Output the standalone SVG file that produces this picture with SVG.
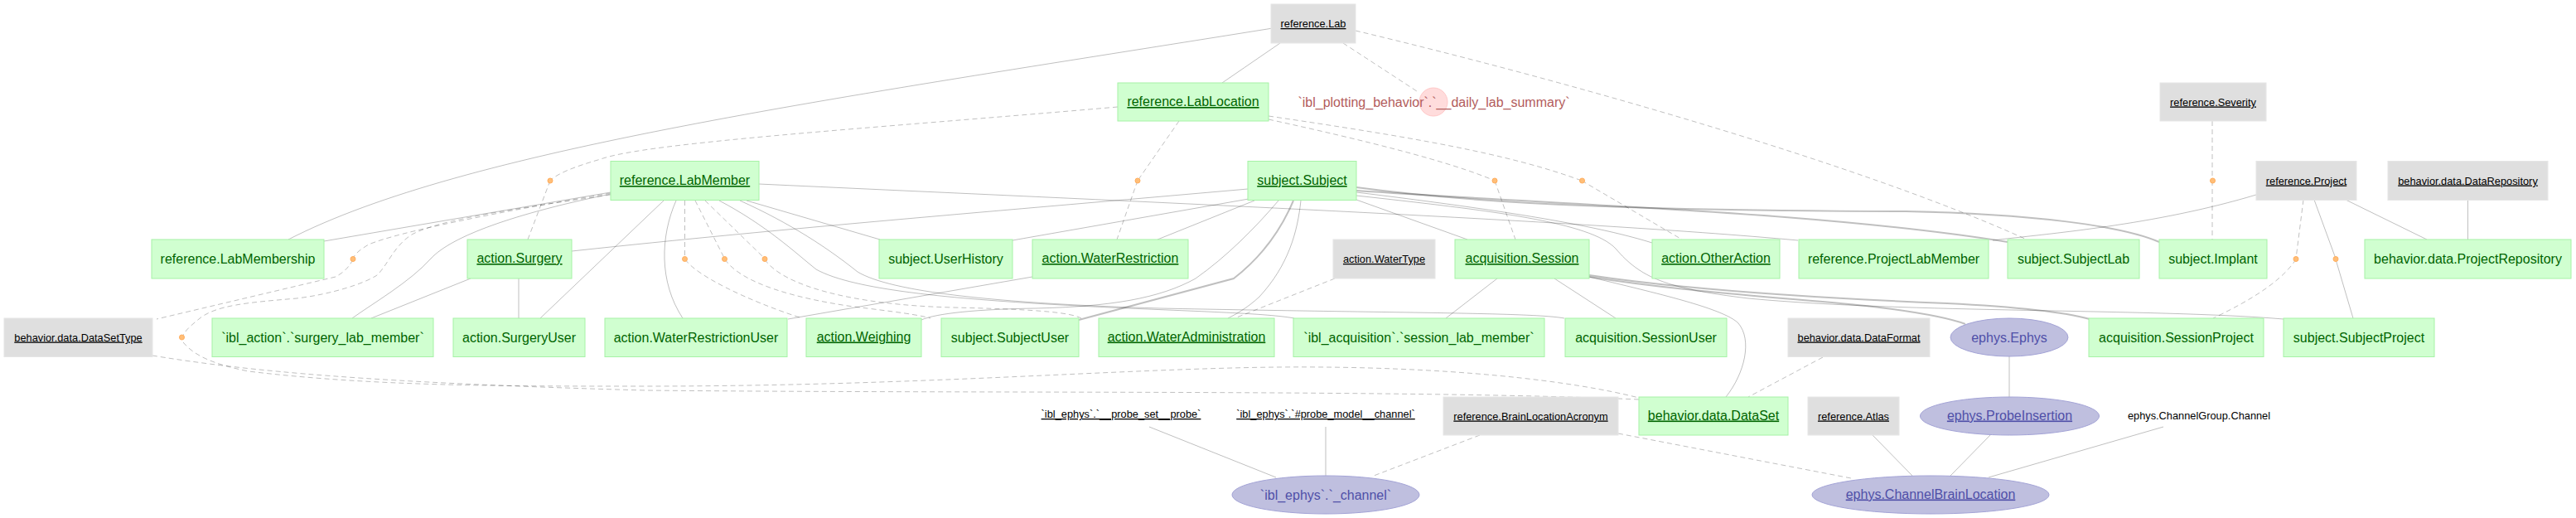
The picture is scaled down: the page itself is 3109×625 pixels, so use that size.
<svg xmlns="http://www.w3.org/2000/svg" width="3109" height="625" viewBox="0 0 3109 625">
<style>
text{font-family:"Liberation Sans",Arial,sans-serif;text-anchor:middle}
.m rect{fill:#D0FFD0;stroke:#A6F2A6;stroke-width:1}
.m text{fill:#006400;font-size:16px}
.l rect{fill:#DFDFDF;stroke:#E6E6E6;stroke-width:1}
.l text{fill:#000;font-size:12.8px}
.i ellipse{fill:#BFBFDF;stroke:#A3A3D6;stroke-width:1}
.i text{fill:#4F4FA8;font-size:16px}
.p text{fill:#000;font-size:12.8px}
.c circle{fill:#FFDCDC;stroke:#FFC8C8;stroke-width:1}
.c text{fill:#B35C5C;font-size:16px}
.a circle{fill:#FFBE78;stroke:#FFAD5C;stroke-width:1}
.u{text-decoration:underline}
#edges path{fill:none;stroke:#000;stroke-opacity:.25;stroke-width:1}
#edges .d{stroke-dasharray:6 4}
#edges .t{stroke-width:2}
</style>
<rect width="3109" height="625" fill="#fff"/>
<g id="edges">
<path d="M1536,34 C1000,120 560,180 348,289"/>
<path d="M1545,52 L1475,100"/>
<path d="M737,232 L391,291"/>
<path d="M737,234 C620,258 545,285 520,312 C495,340 450,366 425,384"/>
<path d="M568,336 L448,384"/>
<path d="M626,336 L626,384"/>
<path d="M801,242 L652,384"/>
<path d="M816,242 C797,285 795,340 824,384"/>
<path d="M901,242 L1062,289"/>
<path d="M916,222 C1300,240 1900,265 2170,290"/>
<path d="M868,242 C925,272 960,305 985,325 C1030,350 1150,362 1340,371 C1450,376 1530,378 1562,384"/>
<path d="M893,242 C955,270 1000,300 1035,328 C1075,352 1200,366 1400,372 C1700,378 1850,377 1888,384"/>
<path d="M1506,228 C1200,255 950,275 690,303"/>
<path d="M1507,240 L1222,290"/>
<path d="M1514,242 L1397,289"/>
<path d="M1543,242 C1515,275 1480,310 1443,336 C1400,360 1340,370 1250,372 C1180,373 1130,378 1112,386"/>
<path d="M1570,242 C1566,280 1555,320 1520,358 C1505,372 1490,380 1482,384"/>
<path d="M1637,241 L1771,289"/>
<path d="M1637,232 C1800,252 1920,270 1994,293"/>
<path d="M1637,236 C1800,254 1920,268 1950,300 C1980,335 2010,348 2110,360 C2300,378 2600,372 2756,385"/>
<path d="M1807,336 L1745,384"/>
<path d="M1876,336 L1950,384"/>
<path d="M1918,334 C2000,354 2080,372 2098,390 C2115,410 2106,450 2083,479"/>
<path d="M1246,334 L951,385"/>
<path d="M2723,235 C2600,272 2470,282 2405,290"/>
<path d="M2793,241 L2819,312"/>
<path d="M2819,313 L2840,384"/>
<path d="M2831,241 L2929,289"/>
<path d="M2978.5,241 L2978.5,289"/>
<path d="M2425,430 L2425,479"/>
<path d="M2402,525 L2354,574"/>
<path d="M2611,515 L2400,576"/>
<path d="M2260,525 L2308,574"/>
<path d="M1600,515 L1600,574"/>
<path d="M1387,515 L1540,576"/>
<path class="t" d="M1637,226 C1800,248 2000,254 2300,255 C2450,258 2560,272 2606,292"/>
<path class="t" d="M1637,230 C1900,248 2200,256 2423,292"/>
<path class="t" d="M1561,242 C1545,280 1520,312 1489,336 L1302,386"/>
<path class="t" d="M1918,332 C2050,352 2250,362 2350,366 C2430,370 2490,376 2522,385"/>
<path class="t" d="M1918,334 C2050,355 2200,362 2260,370 C2310,376 2350,383 2372,391"/>
<path class="d" d="M1621,52 L1713,112"/>
<path class="d" d="M1636,37 C1900,100 2250,200 2446,289"/>
<path class="d" d="M1349,129 C1050,155 780,172 725,192 C690,202 672,210 664,218"/>
<path class="d" d="M664,218 L637,289"/>
<path class="d" d="M1423,146 L1373,218"/>
<path class="d" d="M1373,218 L1348,289"/>
<path class="d" d="M1531,144 C1650,170 1750,195 1804,218"/>
<path class="d" d="M1804,218 L1829,289"/>
<path class="d" d="M1531,140 C1700,165 1820,185 1909,218"/>
<path class="d" d="M1909,218 L2030,289"/>
<path class="d" d="M2670,146 L2670,218"/>
<path class="d" d="M2670,218 L2670,289"/>
<path class="d" d="M2780,241 L2771,312"/>
<path class="d" d="M2771,313 C2750,345 2700,370 2671,384"/>
<path class="d" d="M826.5,242 L826.5,312"/>
<path class="d" d="M827,313 C840,332 900,362 968,384"/>
<path class="d" d="M839,242 L874.5,312"/>
<path class="d" d="M875,313 C895,342 960,360 1030,370 C1080,376 1110,380 1123,384"/>
<path class="d" d="M851,242 L923,312"/>
<path class="d" d="M923,313 C945,345 1030,368 1150,371 C1240,373 1290,376 1305,384"/>
<path class="d" d="M737,233 C600,256 480,280 445,295 C433,302 428,307 426,312"/>
<path class="d" d="M426,313 C420,325 412,330 405,334 L189,385"/>
<path class="d" d="M737,235 C620,252 530,265 497,283 C475,297 468,320 455,332 C440,342 400,355 358,360 C300,365 260,368 240,385 C230,393 222,400 220,407"/>
<path class="d" d="M221,413 C235,430 260,440 300,448 C450,466 600,466 780,466 C1100,466 1350,445 1540,443 C1750,441 1900,460 1978,480"/>
<path class="d" d="M184,429 C300,448 450,462 780,471 C1200,475 1700,470 1978,482"/>
<path class="d" d="M1611,336 L1490,384"/>
<path class="d" d="M2200,431 L2110,479"/>
<path class="d" d="M1953,523 L2234,577"/>
<path class="d" d="M1786,525 L1658,574"/>
</g>
<g id="reference.Lab" class="l"><rect x="1534" y="5" width="102" height="47"/><text x="1585" y="33" class="u">reference.Lab</text></g>
<g id="reference.LabLocation" class="m"><rect x="1349" y="100" width="182" height="46"/><text x="1440" y="128" class="u">reference.LabLocation</text></g>
<g id="reference.Severity" class="l"><rect x="2607" y="100" width="128" height="46"/><text x="2671" y="127.5" class="u">reference.Severity</text></g>
<g id="daily_lab_summary" class="c"><circle cx="1730" cy="123" r="17"/><text x="1730.5" y="128.5">`ibl_plotting_behavior`.`__daily_lab_summary`</text></g>
<g id="reference.LabMember" class="m"><rect x="737" y="194.5" width="179" height="47"/><text x="826.5" y="223" class="u">reference.LabMember</text></g>
<g id="subject.Subject" class="m"><rect x="1506" y="194.5" width="131" height="47"/><text x="1571.5" y="223" class="u">subject.Subject</text></g>
<g id="reference.Project" class="l"><rect x="2723" y="194.5" width="121" height="47"/><text x="2783.5" y="222.5" class="u">reference.Project</text></g>
<g id="behavior.data.DataRepository" class="l"><rect x="2882" y="194.5" width="193" height="47"/><text x="2978.5" y="222.5" class="u">behavior.data.DataRepository</text></g>
<g id="reference.LabMembership" class="m"><rect x="183" y="289" width="208" height="47"/><text x="287" y="318">reference.LabMembership</text></g>
<g id="action.Surgery" class="m"><rect x="564" y="289" width="126" height="47"/><text x="627" y="317" class="u">action.Surgery</text></g>
<g id="subject.UserHistory" class="m"><rect x="1061" y="289" width="161" height="47"/><text x="1141.5" y="318">subject.UserHistory</text></g>
<g id="action.WaterRestriction" class="m"><rect x="1246" y="289" width="188" height="47"/><text x="1340" y="317" class="u">action.WaterRestriction</text></g>
<g id="action.WaterType" class="l"><rect x="1609" y="289" width="123" height="47"/><text x="1670.5" y="317" class="u">action.WaterType</text></g>
<g id="acquisition.Session" class="m"><rect x="1756" y="289" width="162" height="47"/><text x="1837" y="317" class="u">acquisition.Session</text></g>
<g id="action.OtherAction" class="m"><rect x="1994" y="289" width="154" height="47"/><text x="2071" y="317" class="u">action.OtherAction</text></g>
<g id="reference.ProjectLabMember" class="m"><rect x="2171" y="289" width="229" height="47"/><text x="2285.5" y="318">reference.ProjectLabMember</text></g>
<g id="subject.SubjectLab" class="m"><rect x="2423" y="289" width="159" height="47"/><text x="2502.5" y="318">subject.SubjectLab</text></g>
<g id="subject.Implant" class="m"><rect x="2606" y="289" width="130" height="47"/><text x="2671" y="318">subject.Implant</text></g>
<g id="behavior.data.ProjectRepository" class="m"><rect x="2854" y="289" width="249" height="47"/><text x="2978.5" y="318">behavior.data.ProjectRepository</text></g>
<g id="behavior.data.DataSetType" class="l"><rect x="5" y="384" width="179" height="46.5"/><text x="94.5" y="411.5" class="u">behavior.data.DataSetType</text></g>
<g id="ibl_action.surgery_lab_member" class="m"><rect x="256" y="384" width="267" height="46.5"/><text x="389.5" y="412.5">`ibl_action`.`surgery_lab_member`</text></g>
<g id="action.SurgeryUser" class="m"><rect x="547" y="384" width="159" height="46.5"/><text x="626.5" y="412.5">action.SurgeryUser</text></g>
<g id="action.WaterRestrictionUser" class="m"><rect x="730" y="384" width="220" height="46.5"/><text x="840" y="412.5">action.WaterRestrictionUser</text></g>
<g id="action.Weighing" class="m"><rect x="973" y="384" width="139" height="46.5"/><text x="1042.5" y="411.5" class="u">action.Weighing</text></g>
<g id="subject.SubjectUser" class="m"><rect x="1136" y="384" width="166" height="46.5"/><text x="1219" y="412.5">subject.SubjectUser</text></g>
<g id="action.WaterAdministration" class="m"><rect x="1326" y="384" width="212" height="46.5"/><text x="1432" y="411.5" class="u">action.WaterAdministration</text></g>
<g id="ibl_acquisition.session_lab_member" class="m"><rect x="1561" y="384" width="303" height="46.5"/><text x="1712.5" y="412.5">`ibl_acquisition`.`session_lab_member`</text></g>
<g id="acquisition.SessionUser" class="m"><rect x="1889" y="384" width="195" height="46.5"/><text x="1986.5" y="412.5">acquisition.SessionUser</text></g>
<g id="behavior.data.DataFormat" class="l"><rect x="2158" y="384" width="171" height="46.5"/><text x="2243.5" y="411.5" class="u">behavior.data.DataFormat</text></g>
<g id="ephys.Ephys" class="i"><ellipse cx="2425" cy="407" rx="71" ry="23"/><text x="2425" y="412.5">ephys.Ephys</text></g>
<g id="acquisition.SessionProject" class="m"><rect x="2521" y="384" width="211" height="46.5"/><text x="2626.5" y="412.5">acquisition.SessionProject</text></g>
<g id="subject.SubjectProject" class="m"><rect x="2756" y="384" width="182" height="46.5"/><text x="2847" y="412.5">subject.SubjectProject</text></g>
<g id="ibl_ephys.probe_set_probe" class="p"><text x="1353" y="504" class="u">`ibl_ephys`.`__probe_set__probe`</text></g>
<g id="ibl_ephys.probe_model_channel" class="p"><text x="1600" y="504" class="u">`ibl_ephys`.`#probe_model__channel`</text></g>
<g id="reference.BrainLocationAcronym" class="l"><rect x="1742" y="479" width="211" height="46"/><text x="1847.5" y="506.5" class="u">reference.BrainLocationAcronym</text></g>
<g id="behavior.data.DataSet" class="m"><rect x="1978" y="479" width="180" height="46"/><text x="2068" y="506.5" class="u">behavior.data.DataSet</text></g>
<g id="reference.Atlas" class="l"><rect x="2182" y="479" width="110" height="46"/><text x="2237" y="506.5" class="u">reference.Atlas</text></g>
<g id="ephys.ProbeInsertion" class="i"><ellipse cx="2425.5" cy="502" rx="108" ry="23"/><text x="2425.5" y="506.5" class="u">ephys.ProbeInsertion</text></g>
<g id="ephys.ChannelGroup.Channel" class="p"><text x="2654" y="506">ephys.ChannelGroup.Channel</text></g>
<g id="ibl_ephys._channel" class="i"><ellipse cx="1600" cy="597" rx="113" ry="23"/><text x="1600" y="602.5">`ibl_ephys`.`_channel`</text></g>
<g id="ephys.ChannelBrainLocation" class="i"><ellipse cx="2330" cy="597" rx="143" ry="23"/><text x="2330" y="601.5" class="u">ephys.ChannelBrainLocation</text></g>
<g id="alias1" class="a"><circle cx="664" cy="218" r="3"/></g>
<g id="alias2" class="a"><circle cx="1373" cy="218" r="3"/></g>
<g id="alias3" class="a"><circle cx="1804" cy="218" r="3"/></g>
<g id="alias4" class="a"><circle cx="1909.5" cy="218" r="3"/></g>
<g id="alias5" class="a"><circle cx="2670.5" cy="218" r="3"/></g>
<g id="alias6" class="a"><circle cx="426" cy="312.5" r="3"/></g>
<g id="alias7" class="a"><circle cx="826.5" cy="312.5" r="3"/></g>
<g id="alias8" class="a"><circle cx="874.5" cy="312.5" r="3"/></g>
<g id="alias9" class="a"><circle cx="923" cy="312.5" r="3"/></g>
<g id="alias10" class="a"><circle cx="2771" cy="312.5" r="3"/></g>
<g id="alias11" class="a"><circle cx="2819" cy="312.5" r="3"/></g>
<g id="alias12" class="a"><circle cx="219.5" cy="407" r="3"/></g>
</svg>
